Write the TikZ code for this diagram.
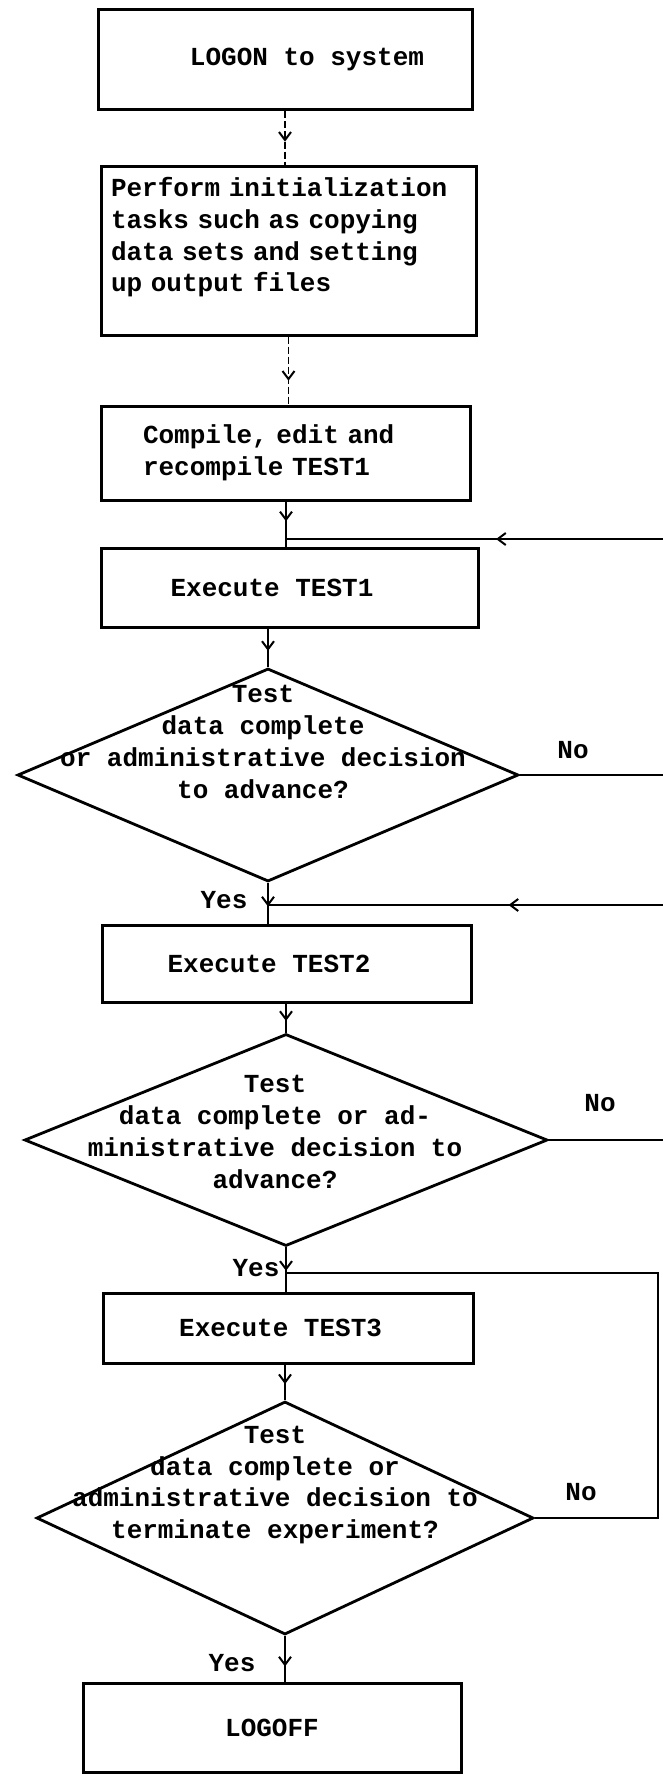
\documentclass[tikz,border=0pt]{standalone}
\usepackage{fontspec}
\setmonofont{Liberation Mono}
\usetikzlibrary{shapes.geometric, arrows.meta, decorations.markings}

\newcommand{\maq}{\ttfamily\bfseries\fontsize{26}{31.7}\selectfont}

\begin{document}
\begin{tikzpicture}[x=1pt, y=-1pt, >={Straight Barb[length=8pt,width=12pt,line width=2pt]},
    caixa/.style={draw, line width=3pt, inner sep=0pt, font=\maq},
    losango/.style={diamond, draw, line width=2.8pt, inner sep=0pt},
    texto/.style={font=\maq, align=center, inner sep=0pt},
    fio/.style={line width=2.4pt},
    fraco/.style={line width=1.4pt, dash pattern=on 7pt off 3pt},
    seta/.style={decoration={markings, mark=at position #1 with {\arrow{>}}},
                 postaction={decorate}}]

    % Area da figura
    \fill[white] (0,0) rectangle (663,1782);
    \useasboundingbox (0,0) rectangle (663,1782);

    % --- Caixas ---
    \node[caixa, minimum width=374pt, minimum height=100pt] (LOGON) at (285,60)
        {\hspace*{44pt}LOGON to system};
    \node[caixa, minimum width=375pt, minimum height=169pt, text width=355pt,
          inner xsep=10pt, align=left] (INIT) at (288.5,250.5)
        {Perform initialization\\tasks such as copying\\data sets and setting\\up output files\\ \mbox{}};
    \node[caixa, minimum width=369pt, minimum height=94pt, text width=286pt,
          inner xsep=41.5pt, align=left] (COMP) at (286,453)
        {Compile, edit and\\recompile TEST1};
    \node[caixa, minimum width=376.5pt, minimum height=79pt] (EX1) at (290,587.5)
        {\hspace*{-36pt}Execute TEST1};
    \node[caixa, minimum width=369.5pt, minimum height=77pt] (EX2) at (287,963.5)
        {\hspace*{-36pt}Execute TEST2};
    \node[caixa, minimum width=370pt, minimum height=70pt] (EX3) at (288.6,1328)
        {\hspace*{-16pt}Execute TEST3};
    \node[caixa, minimum width=378pt, minimum height=89pt] (LOGOFF) at (272,1727.5)
        {LOGOFF};

    % --- Decisoes ---
    \node[losango, minimum width=501pt, minimum height=213pt] (D1) at (268,775) {};
    \node[texto] (T1) at (263,742)
        {Test\\data complete\\or administrative decision\\to advance?};

    \node[losango, minimum width=523pt, minimum height=212pt] (D2) at (286,1140) {};
    \node[texto] (T2) at (275,1132)
        {Test\\data complete or ad-\\ministrative decision to\\advance?};

    \node[losango, minimum width=497pt, minimum height=233pt] (D3) at (285,1518) {};
    \node[texto] (T3) at (275,1485)
        {Test\\data complete or\\administrative decision to\\terminate experiment?};

    % Rotulos
    \node[texto] (NO1) at (573,750) {No};
    \node[texto] (NO2) at (600,1103) {No};
    \node[texto] (NO3) at (581,1492) {No};
    \node[texto] (YES1) at (224,900) {Yes};
    \node[texto] (YES2) at (256,1268) {Yes};
    \node[texto] (YES3) at (232,1663) {Yes};

    % Juncoes e cantos dos retornos
    \coordinate (J1) at (286,539);
    \coordinate (J2) at (268,905);
    \coordinate (J3) at (286,1273);
    \coordinate (R1) at (690,539);
    \coordinate (R2) at (690,905);
    \coordinate (R3) at (658,1273);

    % --- Fluxo principal ---
    \draw[fraco, seta=0.57] (LOGON.south) -- (LOGON.south |- INIT.north);
    \draw[fraco, seta=0.65] (INIT.south) -- (INIT.south |- COMP.north);
    \draw[fio, seta=0.44] (COMP.south) -- (COMP.south |- EX1.north);
    \draw[fio, seta=0.58] (D1.north |- EX1.south) -- (D1.north);
    \draw[fio, seta=0.58] (D1.south) -- (D1.south |- EX2.north);
    \draw[fio, seta=0.6] (D2.north |- EX2.south) -- (D2.north);
    \draw[fio, seta=0.53] (D2.south) -- (D2.south |- EX3.north);
    \draw[fio, seta=0.55] (D3.north |- EX3.south) -- (D3.north);
    \draw[fio, seta=0.67] (D3.south) -- (D3.south |- LOGOFF.north);

    % --- Retornos (No) ---
    \draw[fio] (D1.east) -| (R1);
    \draw[fio, seta=0.48] (R1) -- (J1);
    \draw[fio] (D2.east) -| (R2);
    \draw[fio, seta=0.43] (R2) -- (J2);
    \draw[fio] (D3.east) -| (R3) -- (J3);

\end{tikzpicture}
\end{document}
